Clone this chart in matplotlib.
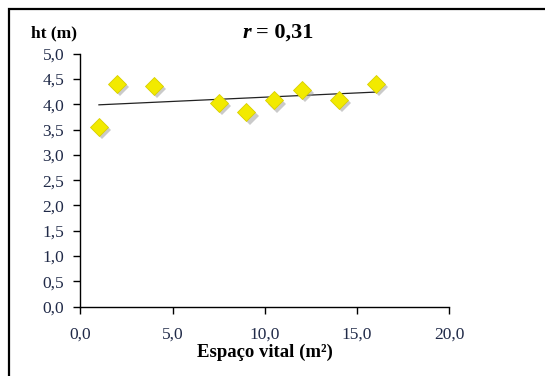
import matplotlib.pyplot as plt
import matplotlib.transforms as mtransforms
from matplotlib.patches import Rectangle
import numpy as np

plt.rcParams['font.family'] = ['Liberation Serif', 'DejaVu Serif']

# espaço vital (m2) x altura total (m)
espaco = [1.0, 2.0, 4.0, 7.5, 9.0, 10.5, 12.0, 14.0, 16.0]
altura = [3.55, 4.40, 4.36, 4.03, 3.84, 4.08, 4.28, 4.09, 4.40]

xticks = [0, 5, 10, 15, 20]
xtick_labels = ['0,0', '5,0', '10,0', '15,0', '20,0']
yticks = [0, 0.5, 1, 1.5, 2, 2.5, 3, 3.5, 4, 4.5, 5]
ytick_labels = ['0,0', '0,5', '1,0', '1,5', '2,0', '2,5', '3,0', '3,5', '4,0', '4,5', '5,0']

x = np.array(espaco)
y = np.array(altura)
coef = np.polyfit(x, y, 1)
r = np.corrcoef(x, y)[0, 1]

fig = plt.figure(figsize=(5.45, 3.76), dpi=100)
ax = fig.add_axes([0.1477, 0.1843, 0.8244 - 0.1477, 0.8572 - 0.1843])

# moldura externa
fig.patches.append(Rectangle((9 / 545, -0.1), 1.2, 1 - 9 / 376 + 0.1,
                             transform=fig.transFigure, fill=False,
                             edgecolor='black', linewidth=1.6))

# reta de tendencia
xl = np.array([x.min(), x.max()])
ax.plot(xl, np.polyval(coef, xl), color='#222222', linewidth=0.9, zorder=2)

# sombra dos marcadores
shadow = mtransforms.offset_copy(ax.transData, fig=fig, x=2.2, y=-2.4, units='points')
ax.plot(x, y, 'D', markersize=9, color='#a0a0a0', alpha=0.55, markeredgewidth=0,
        transform=shadow, zorder=3)
ax.plot(x, y, 'D', markersize=9, markerfacecolor='#f2ea00',
        markeredgecolor='#d8cf00', markeredgewidth=0.6, zorder=4)

ax.set_xlim(0, 20)
ax.set_ylim(0, 5)
ax.set_xticks(xticks)
ax.set_xticklabels(xtick_labels)
ax.set_yticks(yticks)
ax.set_yticklabels(ytick_labels)
ax.tick_params(direction='out', length=4.7, width=1, labelsize=12.5,
               labelcolor='#202a48')
ax.tick_params(axis='y', pad=7)
ax.tick_params(axis='x', pad=10)
for s in ['top', 'right']:
    ax.spines[s].set_visible(False)
for s in ['left', 'bottom']:
    ax.spines[s].set_linewidth(1)

fig.text(0.057, 0.912, 'ht (m)', fontsize=12.5, fontweight='bold', va='center')

# titulo: r em italico + valor do coeficiente
fig.text(251 / 545, 0.912, 'r', fontsize=16, fontweight='bold',
         fontstyle='italic', ha='right', va='center')
fig.text(256 / 545, 0.912, '= ' + f'{r:.2f}'.replace('.', ','), fontsize=16,
         fontweight='bold', ha='left', va='center')

fig.text(0.486, 0.064, 'Espaço vital (m²)', fontsize=13.5, fontweight='bold',
         ha='center', va='center')

fig.savefig('out.png', dpi=100)
